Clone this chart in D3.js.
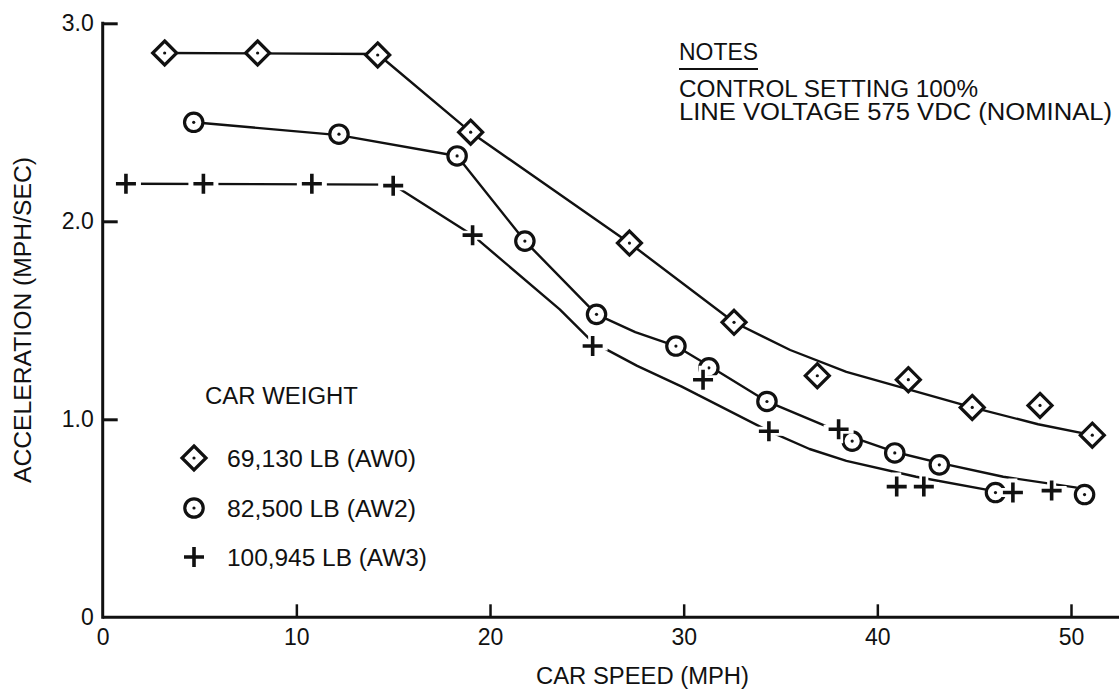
<!DOCTYPE html>
<html>
<head>
<meta charset="utf-8">
<script src="https://cdn.jsdelivr.net/npm/d3@7"></script>
<style>
  html, body { margin: 0; padding: 0; background: #fff; }
  svg { display: block; }
  text { font-family: "Liberation Sans", Arial, Helvetica, sans-serif; fill: #111; }
</style>
</head>
<body>
<svg id="chart" width="1120" height="692"></svg>
<script>
// ---------- data ----------
const xTicks = [0, 10, 20, 30, 40, 50];
const xTickLabels = ["0", "10", "20", "30", "40", "50"];
const yTicks = [0, 1, 2, 3];
const yTickLabels = ["0", "1.0", "2.0", "3.0"];

// AW0 (diamonds) measured points
const aw0Speed = [3.2, 8.0, 14.2, 19.0, 27.2, 32.6, 36.9, 41.6, 44.9, 48.4, 51.1];
const aw0Accel = [2.85, 2.85, 2.84, 2.45, 1.89, 1.49, 1.22, 1.20, 1.06, 1.07, 0.92];
// AW0 faired curve
const aw0CurveSpeed = [3.2, 14.2, 19.0, 27.2, 32.6, 35.5, 38.4, 44.9, 48.3, 51.1];
const aw0CurveAccel = [2.85, 2.845, 2.45, 1.89, 1.49, 1.35, 1.24, 1.06, 0.975, 0.92];

// AW2 (circles) measured points
const aw2Speed = [4.7, 12.2, 18.3, 21.8, 25.5, 29.6, 31.3, 34.3, 38.7, 40.9, 43.2, 46.1, 50.7];
const aw2Accel = [2.50, 2.44, 2.33, 1.90, 1.53, 1.37, 1.26, 1.09, 0.89, 0.83, 0.77, 0.63, 0.62];
// AW2 faired curve
const aw2CurveSpeed = [4.7, 12.2, 18.3, 21.8, 25.5, 27.5, 29.6, 31.3, 34.3, 38.7, 40.9, 43.2, 46.5, 50.3];
const aw2CurveAccel = [2.50, 2.435, 2.33, 1.90, 1.53, 1.44, 1.37, 1.27, 1.09, 0.91, 0.835, 0.78, 0.71, 0.655];

// AW3 (plus) measured points
const aw3Speed = [1.2, 5.2, 10.8, 15.0, 19.1, 25.3, 31.0, 34.4, 38.0, 41.0, 42.4, 47.0, 49.0];
const aw3Accel = [2.19, 2.19, 2.19, 2.18, 1.93, 1.37, 1.20, 0.94, 0.95, 0.66, 0.66, 0.63, 0.64];
// AW3 faired curve
const aw3CurveSpeed = [1.2, 15.0, 19.1, 23.6, 25.3, 27.6, 29.9, 34.4, 36.5, 38.4, 42.0, 45.9];
const aw3CurveAccel = [2.19, 2.185, 1.93, 1.555, 1.39, 1.27, 1.165, 0.94, 0.85, 0.79, 0.71, 0.64];

const legendTitle = "CAR WEIGHT";
const legendLabels = ["69,130 LB (AW0)", "82,500 LB (AW2)", "100,945 LB (AW3)"];
const legendMarkers = ["diamond", "circle", "plus"];
const notesTitle = "NOTES";
const notesLines = ["CONTROL SETTING 100%", "LINE VOLTAGE 575 VDC (NOMINAL)"];
const xTitle = "CAR SPEED (MPH)";
const yTitle = "ACCELERATION (MPH/SEC)";

// ---------- layout ----------
const svg = d3.select("#chart");
const x0 = 102.7, x50 = 1071;
const x = d3.scaleLinear().domain([0, 50]).range([x0, x50]);
const y = d3.scaleLinear().domain([0, 3]).range([617.3, 23.3]);
const FONT = 23;

// axes
const xAxis = d3.axisBottom(x).tickValues(xTicks).tickSizeInner(-13).tickSizeOuter(0)
  .tickPadding(20).tickFormat((d, i) => xTickLabels[i]);
const gx = svg.append("g").attr("transform", `translate(0,${y(0)})`).call(xAxis);
gx.select(".domain").remove();
gx.selectAll(".tick line").attr("stroke", "#111").attr("stroke-width", 2.5)
  .filter(d => d === 0).remove();
gx.selectAll(".tick text").attr("font-size", FONT).attr("fill", "#111")
  .attr("dy", "0.35em").attr("y", 19.5);

const yAxis = d3.axisLeft(y).tickValues(yTicks).tickSizeInner(-15).tickSizeOuter(0)
  .tickPadding(9).tickFormat((d, i) => yTickLabels[i]);
const gy = svg.append("g").attr("transform", `translate(${x0},0)`).call(yAxis);
gy.select(".domain").remove();
gy.selectAll(".tick line").attr("stroke", "#111").attr("stroke-width", 3)
  .filter(d => d === 0).remove();
gy.selectAll(".tick text").attr("font-size", FONT).attr("fill", "#111");

// axis lines
svg.append("line").attr("x1", x0).attr("x2", 1119).attr("y1", y(0)).attr("y2", y(0))
  .attr("stroke", "#111").attr("stroke-width", 3);
svg.append("line").attr("x1", x0).attr("x2", x0).attr("y1", y(0) + 1.5).attr("y2", y(3) - 1.5)
  .attr("stroke", "#111").attr("stroke-width", 3);

// axis titles
svg.append("text").attr("x", 642.5).attr("y", 684).attr("text-anchor", "middle")
  .attr("font-size", FONT).attr("textLength", 213).attr("lengthAdjust", "spacingAndGlyphs")
  .text(xTitle);
svg.append("text").attr("transform", "translate(31,320) rotate(-90)").attr("text-anchor", "middle")
  .attr("font-size", FONT).attr("textLength", 326).attr("lengthAdjust", "spacingAndGlyphs")
  .text(yTitle);

// ---------- curves ----------
const line = d3.line().x(d => x(d[0])).y(d => y(d[1])).curve(d3.curveLinear);
const curves = [
  d3.zip(aw0CurveSpeed, aw0CurveAccel),
  d3.zip(aw2CurveSpeed, aw2CurveAccel),
  d3.zip(aw3CurveSpeed, aw3CurveAccel)
];
svg.append("g").selectAll("path").data(curves).join("path")
  .attr("d", line).attr("fill", "none").attr("stroke", "#111")
  .attr("stroke-width", 2.4).attr("stroke-linejoin", "round");

// ---------- markers ----------
function drawMarker(g, type, cx, cy) {
  const m = g.append("g").attr("transform", `translate(${cx},${cy})`);
  if (type === "diamond") {
    m.append("path").attr("d", "M0,-12L12,0L0,12L-12,0Z")
      .attr("fill", "#fff").attr("stroke", "#111").attr("stroke-width", 3.2).attr("stroke-linejoin", "miter");
    m.append("circle").attr("r", 1.6).attr("fill", "#111");
  } else if (type === "circle") {
    m.append("circle").attr("r", 9.2)
      .attr("fill", "#fff").attr("stroke", "#111").attr("stroke-width", 3.2);
    m.append("circle").attr("r", 1.6).attr("fill", "#111");
  } else {
    m.append("path").attr("d", "M-15,0H15M0,-14V14")
      .attr("stroke", "#fff").attr("stroke-width", 9);
    m.append("path").attr("d", "M-10,0H10M0,-10V10")
      .attr("stroke", "#111").attr("stroke-width", 3.6);
  }
}
const gm = svg.append("g");
const series = [
  { type: "diamond", pts: d3.zip(aw0Speed, aw0Accel) },
  { type: "circle", pts: d3.zip(aw2Speed, aw2Accel) },
  { type: "plus", pts: d3.zip(aw3Speed, aw3Accel) }
];
series.forEach(s => s.pts.forEach(p => drawMarker(gm, s.type, x(p[0]), y(p[1]))));

// ---------- legend ----------
svg.append("text").attr("x", 205).attr("y", 403.5).attr("font-size", FONT)
  .attr("textLength", 153).attr("lengthAdjust", "spacingAndGlyphs").text(legendTitle);
const legendY = [458, 508, 557];
const legendW = [189, 189, 200];
legendLabels.forEach((lab, i) => {
  drawMarker(svg, legendMarkers[i], 194, legendY[i]);
  svg.append("text").attr("x", 227).attr("y", legendY[i] + 8.5).attr("font-size", FONT)
    .attr("textLength", legendW[i]).attr("lengthAdjust", "spacingAndGlyphs").text(lab);
});

// ---------- notes ----------
svg.append("text").attr("x", 679).attr("y", 60).attr("font-size", FONT)
  .attr("textLength", 79).attr("lengthAdjust", "spacingAndGlyphs").text(notesTitle);
svg.append("line").attr("x1", 679).attr("x2", 758).attr("y1", 69).attr("y2", 69)
  .attr("stroke", "#111").attr("stroke-width", 2);
const notesY = [96.5, 120];
const notesW = [299, 433];
notesLines.forEach((t, i) => {
  svg.append("text").attr("x", 679).attr("y", notesY[i]).attr("font-size", FONT)
    .attr("textLength", notesW[i]).attr("lengthAdjust", "spacingAndGlyphs").text(t);
});
</script>
</body>
</html>
